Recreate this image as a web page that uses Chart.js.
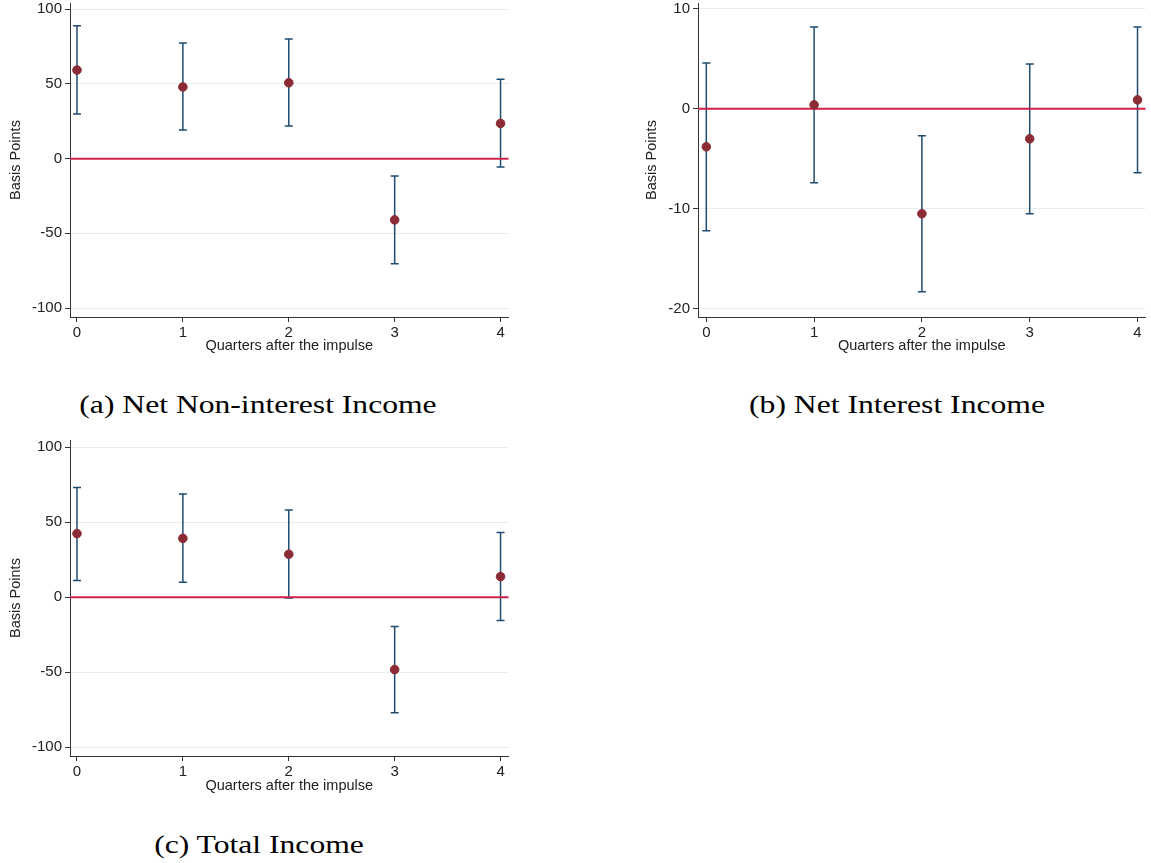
<!DOCTYPE html>
<html>
<head>
<meta charset="utf-8">
<script src="https://cdn.jsdelivr.net/npm/chart.js@4"></script>
<style>
  body { margin: 0; background: #fff; width: 1151px; height: 863px; position: relative; overflow: hidden; }
  canvas { position: absolute; }
  .cap { position: absolute; font-family: "Liberation Serif", "DejaVu Serif", serif; font-size: 25.5px; color: #000; text-align: center; line-height: 30px; white-space: nowrap; transform: scaleX(1.24); transform-origin: center; }
</style>
</head>
<body>
<canvas id="chartA" width="515" height="360" style="left:0;top:0"></canvas>
<canvas id="chartB" width="522" height="360" style="left:630px;top:0"></canvas>
<canvas id="chartC" width="515" height="370" style="left:0;top:430px"></canvas>
<div class="cap" style="left:58px;top:390px;width:400px">(a) Net Non-interest Income</div>
<div class="cap" style="left:697px;top:390px;width:400px">(b) Net Interest Income</div>
<div class="cap" style="left:59px;top:830px;width:400px">(c) Total Income</div>
<script>
const quarters = [0, 1, 2, 3, 4]
const xTicks = [0, 1, 2, 3, 4]

// (a) net non-interest income
const nonIntEst = [59.3, 48.0, 50.8, -41.0, 23.6]
const nonIntLo = [29.9, 19.2, 21.9, -70.4, -5.6]
const nonIntHi = [89.0, 77.4, 80.1, -11.6, 53.1]

// (b) net interest income
const netIntEst = [-3.8, 0.4, -10.5, -3.0, 0.9]
const netIntLo = [-12.2, -7.4, -18.3, -10.5, -6.4]
const netIntHi = [4.6, 8.2, -2.7, 4.5, 8.2]

// (c) total income
const totalEst = [42.5, 39.3, 28.7, -48.2, 13.8]
const totalLo = [11.3, 10.0, -0.4, -76.9, -15.5]
const totalHi = [73.3, 68.9, 58.3, -19.5, 43.3]

const wideTicks = [-100, -50, 0, 50, 100]
const narrowTicks = [-20, -10, 0, 10]

const pointColor = '#8b2b35'
const barColor = '#1f4b70'
const zeroColor = '#d0214a'
const gridColor = '#e6eef0'
const axisColor = '#333'

Chart.defaults.font.family = '"Liberation Sans", Arial, sans-serif'
Chart.defaults.color = '#222'

// red reference line at zero, drawn just before the point markers
const zeroLine = {
    id: 'zeroLine',
    beforeDatasetDraw(chart, args) {
        if (args.index !== 0) return
        const y = chart.scales.y.getPixelForValue(0)
        const area = chart.chartArea
        const ctx = chart.ctx
        ctx.save()
        ctx.strokeStyle = zeroColor
        ctx.lineWidth = 2
        ctx.beginPath()
        ctx.moveTo(area.left, y)
        ctx.lineTo(area.right, y)
        ctx.stroke()
        ctx.restore()
    }
}

function makeChart(canvas, est, lo, hi, yTicks, yMin, yMax, xMin, xMax, box) {
    const datasets = [{
        type: 'scatter',
        data: quarters.map((q, i) => ({x: q, y: est[i]})),
        backgroundColor: pointColor,
        borderColor: pointColor,
        pointRadius: 4.3,
        order: 0
    }]
    quarters.forEach((q, i) => {
        datasets.push({
            type: 'line',
            data: [{x: q, y: lo[i]}, {x: q, y: hi[i]}],
            borderColor: barColor,
            borderWidth: 1.5,
            pointStyle: 'line',
            pointRadius: 4,
            pointBorderWidth: 1.5,
            pointBorderColor: barColor,
            order: 2
        })
    })

    return new Chart(canvas, {
        type: 'scatter',
        data: { datasets: datasets },
        plugins: [zeroLine],
        options: {
            responsive: false,
            animation: false,
            layout: { padding: 0 },
            plugins: { legend: { display: false }, tooltip: { enabled: false } },
            scales: {
                x: {
                    type: 'linear',
                    min: xMin,
                    max: xMax,
                    afterBuildTicks: s => { s.ticks = xTicks.map(v => ({value: v})) },
                    afterFit: s => { s.height = box.xHeight },
                    grid: { drawOnChartArea: false, tickLength: 5, tickColor: axisColor },
                    border: { color: axisColor, width: 1 },
                    ticks: { font: { size: 15 }, padding: 2, maxRotation: 0 },
                    title: { display: true, text: 'Quarters after the impulse', font: { size: 14.5 }, padding: { top: 0, bottom: 5 } }
                },
                y: {
                    min: yMin,
                    max: yMax,
                    afterBuildTicks: s => { s.ticks = yTicks.map(v => ({value: v})) },
                    afterFit: s => { s.width = box.yWidth },
                    grid: { color: gridColor, tickLength: 5, tickColor: axisColor },
                    border: { color: axisColor, width: 1 },
                    ticks: { font: { size: 15 }, padding: 3 },
                    title: { display: true, text: 'Basis Points', font: { size: 14.5 }, padding: { top: box.titlePad, bottom: 0 } }
                }
            }
        }
    })
}

// build once to find the margins Chart.js keeps for tick labels, then size the canvas
// so the plot area lands on the wanted page box
function placeChart(id, est, lo, hi, yTicks, yMin, yMax, xMin, xMax, box) {
    const canvas = document.getElementById(id)
    let chart = makeChart(canvas, est, lo, hi, yTicks, yMin, yMax, xMin, xMax, box)
    const extraRight = chart.width - chart.chartArea.right
    const extraTop = chart.chartArea.top
    chart.destroy()
    const top = box.top - extraTop
    canvas.width = box.right - box.left + extraRight
    canvas.height = box.bottom - top + box.xHeight
    canvas.style.left = box.left + 'px'
    canvas.style.top = top + 'px'
    return makeChart(canvas, est, lo, hi, yTicks, yMin, yMax, xMin, xMax, box)
}

const chartA = placeChart('chartA', nonIntEst, nonIntLo, nonIntHi, wideTicks, -106, 104.2, -0.066, 4.075,
    { left: 0, right: 509, top: 3, bottom: 317, xHeight: 43, yWidth: 70, titlePad: 7 })
const chartB = placeChart('chartB', netIntEst, netIntLo, netIntHi, narrowTicks, -20.84, 10.6, -0.077, 4.074,
    { left: 630, right: 1146, top: 3, bottom: 317, xHeight: 43, yWidth: 68, titlePad: 13 })
const chartC = placeChart('chartC', totalEst, totalLo, totalHi, wideTicks, -105.8, 104.9, -0.066, 4.075,
    { left: 0, right: 509, top: 440, bottom: 756, xHeight: 44, yWidth: 70, titlePad: 7 })
</script>
</body>
</html>
